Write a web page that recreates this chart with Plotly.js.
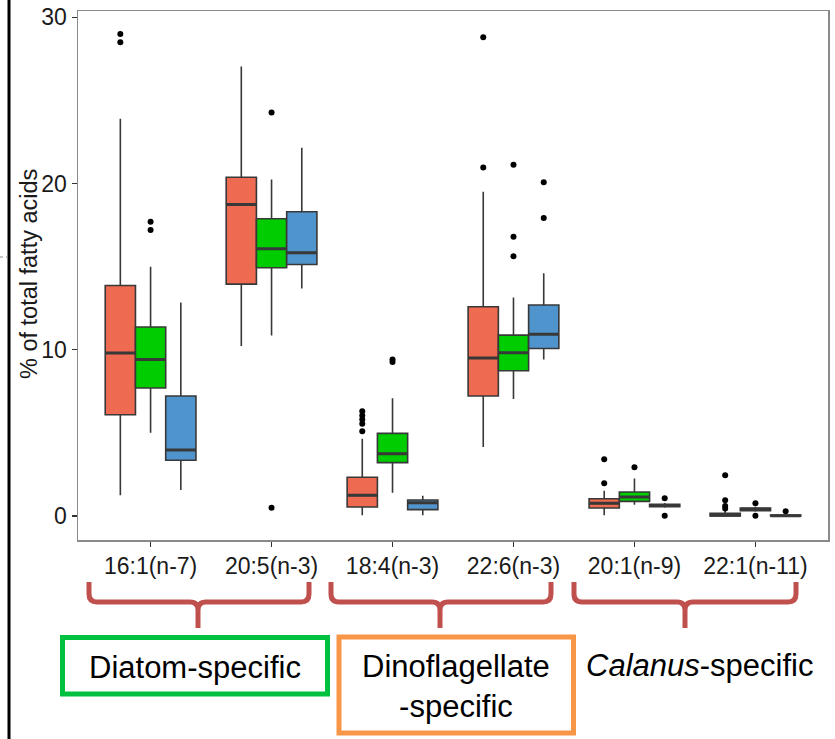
<!DOCTYPE html>
<html>
<head>
<meta charset="utf-8">
<script src="https://cdn.plot.ly/plotly-3.0.1.min.js"></script>
<style>html,body{margin:0;padding:0;background:#fff;}#chart{width:835px;height:739px;}</style>
</head>
<body>
<div id="chart"></div>
<script>
// ---- data ----
const categories = ['16:1(n-7)', '20:5(n-3)', '18:4(n-3)', '22:6(n-3)', '20:1(n-9)', '22:1(n-11)'];
const seriesNames = ['Group 1', 'Group 2', 'Group 3'];

const redLower  = [1.24, 10.22, 0.04, 4.15, 0.04, 0.00];
const redQ1     = [6.09, 13.95, 0.54, 7.22, 0.48, 0.00];
const redMedian = [9.80, 18.74, 1.24, 9.50, 0.76, 0.05];
const redQ3     = [13.87, 20.38, 2.33, 12.59, 1.04, 0.16];
const redUpper  = [23.9, 27.04, 4.65, 19.5, 1.52, 0.35];
const redOutliers = [[29.0, 28.5], [], [6.3, 6.05, 5.8, 5.55, 5.1], [28.8, 20.97], [3.41, 1.97], [2.45, 0.94, 0.6, 0.45]];

const greenLower  = [5.01, 10.86, 1.40, 7.04, 0.68, 0.25];
const greenQ1     = [7.70, 14.93, 3.21, 8.74, 0.88, 0.32];
const greenMedian = [9.42, 16.07, 3.75, 9.82, 1.14, 0.40];
const greenQ3     = [11.37, 17.88, 4.97, 10.88, 1.44, 0.48];
const greenUpper  = [15.0, 20.25, 7.08, 13.15, 2.25, 0.55];
const greenOutliers = [[17.7, 17.2], [24.27, 0.5], [9.42, 9.26], [21.13, 16.8, 15.62], [2.93], [0.76, 0.02]];

const blueLower  = [1.56, 13.69, 0.04, 9.42, 0.50, 0.00];
const blueQ1     = [3.35, 15.13, 0.38, 10.08, 0.56, 0.00];
const blueMedian = [3.97, 15.83, 0.80, 10.94, 0.63, 0.02];
const blueQ3     = [7.22, 18.30, 0.96, 12.69, 0.70, 0.06];
const blueUpper  = [12.85, 22.15, 1.22, 14.6, 0.78, 0.12];
const blueOutliers = [[], [], [], [20.08, 17.92], [1.06, 0.02], [0.28]];

const yTickVals = [0, 10, 20, 30];
const yTitle = '% of total fatty acids';
const groupLabels = ['Diatom-specific', 'Dinoflagellate<br>-specific', '<i>Calanus</i>-specific'];

// ---- styling ----
const FONT = 'Liberation Sans, Arial, Helvetica, sans-serif';
const fills = ['#EE6A50', '#00CD00', '#4F94CD'];
const outline = '#383838';

function boxTrace(name, group, fill, lo, q1, med, q3, up, outs) {
  // empty outlier lists become [null] so every row is a non-empty array
  const ys = outs.map(a => a.length ? a : [null]);
  return {
    type: 'box', name: name, x: categories, y: ys, offsetgroup: group,
    q1: q1, median: med, q3: q3, lowerfence: lo, upperfence: up,
    boxpoints: 'outliers', jitter: 0, pointpos: 0, whiskerwidth: 0,
    fillcolor: fill,
    line: {color: outline, width: 1.6},
    marker: {color: '#000000', size: 6, outliercolor: '#000000', line: {width: 0}},
    hoverinfo: 'skip', showlegend: false
  };
}
// thick median bar drawn on top (zero-height box at the median)
function medianTrace(name, group, med) {
  return {
    type: 'box', name: name + ' median', x: categories, offsetgroup: group,
    q1: med, median: med, q3: med, lowerfence: med, upperfence: med,
    boxpoints: false, whiskerwidth: 0, fillcolor: 'rgba(0,0,0,0)',
    line: {color: outline, width: 3},
    hoverinfo: 'skip', showlegend: false
  };
}

const data = [
  boxTrace(seriesNames[0], 'g1', fills[0], redLower, redQ1, redMedian, redQ3, redUpper, redOutliers),
  boxTrace(seriesNames[1], 'g2', fills[1], greenLower, greenQ1, greenMedian, greenQ3, greenUpper, greenOutliers),
  boxTrace(seriesNames[2], 'g3', fills[2], blueLower, blueQ1, blueMedian, blueQ3, blueUpper, blueOutliers),
  medianTrace(seriesNames[0], 'g1', redMedian),
  medianTrace(seriesNames[1], 'g2', greenMedian),
  medianTrace(seriesNames[2], 'g3', blueMedian)
];

// pixel -> paper helpers for the decorations around the plot
const X0 = 78, X1 = 828, Y0 = 11, Y1 = 540;
const px = x => (x - X0) / (X1 - X0);
const py = y => (Y1 - y) / (Y1 - Y0);
const P = (x, y) => px(x).toFixed(5) + ',' + py(y).toFixed(5);

function bracePath(L, C, R) {
  const y0 = 582, y1 = 602, y2 = 628, r = 8;
  return 'M' + P(L, y0) + ' L' + P(L, y1 - r) + ' Q' + P(L, y1) + ' ' + P(L + r, y1) +
         ' L' + P(C - r, y1) + ' Q' + P(C, y1) + ' ' + P(C, y1 + r) + ' L' + P(C, y2) +
         ' M' + P(C, y1 + r) + ' Q' + P(C, y1) + ' ' + P(C + r, y1) +
         ' L' + P(R - r, y1) + ' Q' + P(R, y1) + ' ' + P(R, y1 - r) + ' L' + P(R, y0);
}

const braceColor = '#C0504D';
const shapes = [
  {type: 'path', xref: 'paper', yref: 'paper', path: bracePath(89, 198, 309), line: {color: braceColor, width: 5}},
  {type: 'path', xref: 'paper', yref: 'paper', path: bracePath(331, 440, 551), line: {color: braceColor, width: 5}},
  {type: 'path', xref: 'paper', yref: 'paper', path: bracePath(574, 685, 796), line: {color: braceColor, width: 5}},
  {type: 'rect', xref: 'paper', yref: 'paper', x0: px(62.5), x1: px(327.5), y0: py(637.5), y1: py(694), line: {color: '#00C040', width: 5}},
  {type: 'rect', xref: 'paper', yref: 'paper', x0: px(339), x1: px(573.5), y0: py(637), y1: py(733), line: {color: '#F79646', width: 5}},
  {type: 'line', xref: 'paper', yref: 'paper', x0: px(9), x1: px(9), y0: py(0), y1: py(739), line: {color: '#000000', width: 3}},
  {type: 'line', xref: 'paper', yref: 'paper', x0: px(0), x1: px(8), y0: py(257), y1: py(257), line: {color: '#888888', width: 1, dash: 'dot'}}
];

const annotations = [
  {xref: 'paper', yref: 'paper', x: px(29), y: py(274), text: yTitle, textangle: -90, showarrow: false, xanchor: 'center', yanchor: 'middle', font: {family: FONT, size: 23.5, color: '#1a1a1a'}},
  {xref: 'paper', yref: 'paper', x: px(195), y: py(667), text: groupLabels[0], showarrow: false, xanchor: 'center', yanchor: 'middle', font: {family: FONT, size: 31, color: '#000'}},
  {xref: 'paper', yref: 'paper', x: px(456), y: py(686), text: groupLabels[1], showarrow: false, xanchor: 'center', yanchor: 'middle', font: {family: FONT, size: 31, color: '#000'}},
  {xref: 'paper', yref: 'paper', x: px(699), y: py(665), text: groupLabels[2], showarrow: false, xanchor: 'center', yanchor: 'middle', font: {family: FONT, size: 31, color: '#000'}}
];

const layout = {
  width: 835, height: 739,
  margin: {l: 78, r: 7, t: 11, b: 199, pad: 0},
  paper_bgcolor: '#ffffff', plot_bgcolor: '#ffffff',
  boxmode: 'group', boxgap: 0.25, boxgroupgap: 0,
  font: {family: FONT, color: '#1a1a1a'},
  showlegend: false,
  xaxis: {
    type: 'category', categoryorder: 'array', categoryarray: categories,
    range: [-0.6, 5.6], showgrid: false, zeroline: false,
    showline: true, mirror: true, linecolor: '#8a8a8a', linewidth: 1.5,
    ticks: 'outside', ticklen: 5, tickwidth: 1.2, tickcolor: '#333',
    tickfont: {family: FONT, size: 23, color: '#1a1a1a'}
  },
  yaxis: {
    range: [-1.445, 30.38], tickvals: yTickVals, ticktext: yTickVals.map(String),
    showgrid: false, zeroline: false,
    showline: true, mirror: true, linecolor: '#8a8a8a', linewidth: 1.5,
    ticks: 'outside', ticklen: 5, tickwidth: 1.2, tickcolor: '#333',
    tickfont: {family: FONT, size: 23, color: '#1a1a1a'}
  },
  shapes: shapes,
  annotations: annotations
};

Plotly.newPlot('chart', data, layout, {staticPlot: true, displayModeBar: false});
</script>
</body>
</html>
